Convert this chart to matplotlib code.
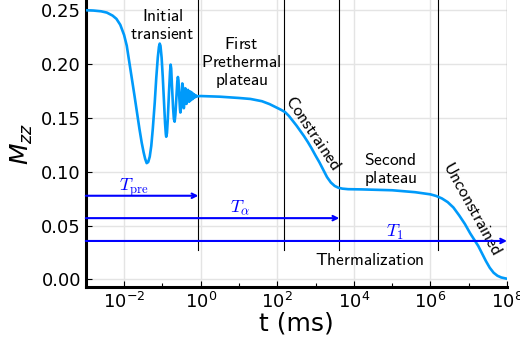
import numpy as np
import matplotlib
matplotlib.use("Agg")
import matplotlib.pyplot as plt
from matplotlib.ticker import FixedLocator, NullFormatter

# curve: log10(t / ms) and M_zz
log_t = [-3.0, -2.8, -2.6, -2.45, -2.3, -2.2, -2.1, -2.0, -1.93, -1.86,
         -1.80, -1.73, -1.66, -1.60, -1.54, -1.49, -1.45, -1.41, -1.37, -1.33,
         -1.29, -1.25, -1.20, -1.16, -1.12, -1.09, -1.07, -1.05, -1.02, -0.99,
         -0.96, -0.93, -0.91, -0.90, -0.88, -0.86, -0.83, -0.80, -0.785, -0.77,
         -0.75, -0.72, -0.70, -0.68, -0.66, -0.63, -0.61, -0.595, -0.58, -0.56,
         -0.54, -0.53, -0.51, -0.50, -0.48, -0.465, -0.45, -0.44, -0.425, -0.41,
         -0.40, -0.385, -0.37, -0.355, -0.34, -0.33, -0.315, -0.30, -0.29, -0.28,
         -0.27, -0.26, -0.25, -0.24, -0.23, -0.22, -0.21, -0.20, -0.19, -0.18,
         -0.17, -0.16, -0.15, -0.14, -0.12, -0.10, 0.0, 0.5, 1.0, 1.3,
         1.6, 1.8, 1.95, 2.1, 2.2, 2.3, 2.4, 2.5, 2.6, 2.7,
         2.8, 2.9, 3.0, 3.1, 3.2, 3.3, 3.4, 3.5, 3.6, 3.7,
         3.85, 4.2, 5.0, 5.6, 6.0, 6.15, 6.3, 6.45, 6.6, 6.75,
         6.9, 7.04, 7.15, 7.25, 7.35, 7.45, 7.55, 7.65, 7.75, 7.85,
         8.0]
m_zz = [0.2500, 0.2497, 0.2490, 0.2478, 0.2450, 0.2420, 0.2365, 0.2270, 0.2170, 0.2010,
        0.1870, 0.1710, 0.1540, 0.1400, 0.1270, 0.1180, 0.1120, 0.1080, 0.1090, 0.1140,
        0.1240, 0.1400, 0.1640, 0.1870, 0.2060, 0.2160, 0.2190, 0.2170, 0.2060, 0.1880,
        0.1660, 0.1450, 0.1350, 0.1325, 0.1360, 0.1480, 0.1720, 0.1930, 0.1995, 0.1960,
        0.1800, 0.1590, 0.1490, 0.1465, 0.1530, 0.1720, 0.1840, 0.1880, 0.1850, 0.1700,
        0.1580, 0.1550, 0.1600, 0.1720, 0.1820, 0.1790, 0.1650, 0.1590, 0.1640, 0.1740,
        0.1775, 0.1720, 0.1630, 0.1660, 0.1740, 0.1760, 0.1720, 0.1650, 0.1670, 0.1735,
        0.1745, 0.1690, 0.1665, 0.1725, 0.1735, 0.1680, 0.1675, 0.1725, 0.1718, 0.1685,
        0.1690, 0.1715, 0.1710, 0.1693, 0.1708, 0.1700, 0.1703, 0.1697, 0.1685, 0.1676,
        0.1655, 0.1628, 0.1602, 0.1575, 0.1555, 0.1520, 0.1475, 0.1430, 0.1380, 0.1330,
        0.1275, 0.1215, 0.1150, 0.1088, 0.1020, 0.0950, 0.0900, 0.0868, 0.0851, 0.0843,
        0.0838, 0.0836, 0.0828, 0.0810, 0.0790, 0.0775, 0.0752, 0.0718, 0.0668, 0.0595,
        0.0515, 0.0427, 0.0365, 0.0310, 0.0240, 0.0170, 0.0108, 0.0062, 0.0034, 0.0018,
        0.0006]

# regime boundaries (log10 t) and the time-scale arrows
bounds_log = [-0.06, 2.18, 3.62, 6.21, 8.0]
arrow_names = [r"$T_{\rm pre}$", r"$T_{\alpha}$", r"$T_1$"]
arrow_end_log = [-0.06, 3.62, 8.0]
arrow_y = [0.0777, 0.0569, 0.0357]
arrow_label_log = [-1.75, 1.04, 5.08]
arrow_label_y = [0.0858, 0.0666, 0.0433]

blue = "#009AFA"

fig = plt.figure(figsize=(5.2, 3.46), dpi=100)
ax = fig.add_axes([0.165, 0.171, 0.81, 0.829])

t = 10.0 ** np.array(log_t)
ax.plot(t, m_zz, color=blue, lw=1.9, zorder=3)

t0 = 10.0 ** -3
for b in bounds_log:
    ax.plot([10.0 ** b, 10.0 ** b], [0.0272, 0.2595], color="black", lw=0.8, zorder=2)

for name, e, y, lx, ly in zip(arrow_names, arrow_end_log, arrow_y, arrow_label_log, arrow_label_y):
    ax.annotate("", xy=(10.0 ** e, y), xytext=(t0, y),
                arrowprops=dict(arrowstyle="->", color="blue", lw=1.5,
                                shrinkA=0, shrinkB=0, mutation_scale=8), zorder=4)
    ax.text(10.0 ** lx, ly, name, color="blue", fontsize=13, ha="center", va="center",
            math_fontfamily="cm")

def label(x, y, s, rot=0):
    lines = "\n".join(r"$\mathsf{" + w.replace(" ", r"\ ") + "}$" for w in s.split("\n"))
    ax.text(10.0 ** x, y, lines, fontsize=12.5, ha="center", va="center", rotation=rot,
            rotation_mode="anchor", math_fontfamily="cm", linespacing=1.0)

label(-0.995, 0.236, "Initial\ntransient")
label(1.07, 0.201, "First\nPrethermal\nplateau")
label(2.94, 0.136, "Constrained", rot=-56)
label(4.95, 0.102, "Second\nplateau")
label(7.09, 0.066, "Unconstrained", rot=-61)
label(4.42, 0.018, "Thermalization")

ax.set_xscale("log")
ax.set_xlim(10.0 ** -3, 10.0 ** 8)
ax.set_ylim(-0.0069, 0.2595)
ax.xaxis.set_major_locator(FixedLocator([1e-2, 1e0, 1e2, 1e4, 1e6, 1e8]))
ax.xaxis.set_minor_locator(FixedLocator([1e-3, 1e-1, 1e1, 1e3, 1e5, 1e7]))
ax.xaxis.set_minor_formatter(NullFormatter())
ax.set_yticks([0.0, 0.05, 0.10, 0.15, 0.20, 0.25])
ax.set_yticklabels(["0.00", "0.05", "0.10", "0.15", "0.20", "0.25"])

ax.grid(True, which="major", color="#e4e4e4", lw=1.0)
ax.set_axisbelow(True)
for side in ["top", "right"]:
    ax.spines[side].set_visible(False)
for side in ["left", "bottom"]:
    ax.spines[side].set_linewidth(2.2)
ax.tick_params(which="both", direction="in", labelsize=13, width=0.8)
ax.tick_params(which="major", length=4)
ax.tick_params(which="minor", length=3)

ax.set_xlabel("t (ms)", fontsize=18, labelpad=0)
ax.set_ylabel(r"$M_{zz}$", fontsize=18, labelpad=4)

fig.savefig("out.png", dpi=100)
